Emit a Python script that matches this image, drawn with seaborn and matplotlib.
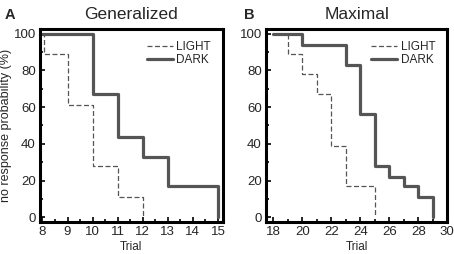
import numpy as np
import pandas as pd
import seaborn as sns
import matplotlib.pyplot as plt
from matplotlib.ticker import MultipleLocator

# survival curves: trial at which the step happens, % still not responding
gen_light_trial = [8, 8.05, 9, 10, 11, 12]
gen_light_pct = [100, 89, 61, 28, 11, 0]
gen_dark_trial = [8, 10, 11, 12, 13, 15]
gen_dark_pct = [100, 67, 44, 33, 17, 0]

max_light_trial = [18, 19, 20, 21, 22, 23, 25]
max_light_pct = [100, 89, 78, 67, 39, 17, 0]
max_dark_trial = [18, 20, 23, 24, 25, 26, 27, 28, 29]
max_dark_pct = [100, 94, 83, 56, 28, 22, 17, 11, 0]

titles = ["Generalized", "Maximal"]
letters = ["A", "B"]

sns.set_theme(style="white")
plt.rcParams['font.family'] = ['Liberation Sans', 'DejaVu Sans']

LINE_COL = "#555555"

fig = plt.figure(figsize=(4.54, 2.54), dpi=100)
ax_a = fig.add_axes([0.088, 0.126, 0.403, 0.76])
ax_b = fig.add_axes([0.586, 0.126, 0.399, 0.76])

panels = [
    (ax_a, gen_light_trial, gen_light_pct, gen_dark_trial, gen_dark_pct, (7.9, 15.2), 1, 0.5),
    (ax_b, max_light_trial, max_light_pct, max_dark_trial, max_dark_pct, (17.5, 30.0), 2, 1),
]

for i, (ax, lt, lp, dt, dp, xlim, major, minor) in enumerate(panels):
    light = pd.DataFrame({"trial": lt, "pct": lp})
    dark = pd.DataFrame({"trial": dt, "pct": dp})
    sns.lineplot(data=light, x="trial", y="pct", ax=ax, color=LINE_COL,
                 linewidth=0.9, linestyle=(0, (4, 2)), drawstyle="steps-post",
                 label="LIGHT")
    sns.lineplot(data=dark, x="trial", y="pct", ax=ax, color=LINE_COL,
                 linewidth=2.3, drawstyle="steps-post", label="DARK")

    ax.set_xlim(*xlim)
    ax.set_ylim(-2.5, 102.5)
    ax.xaxis.set_major_locator(MultipleLocator(major))
    ax.xaxis.set_minor_locator(MultipleLocator(minor))
    ax.yaxis.set_major_locator(MultipleLocator(20))
    ax.yaxis.set_minor_locator(MultipleLocator(10))
    ax.tick_params(which="both", direction="in", bottom=True, left=True,
                   top=False, right=False, width=1.2, color="black")
    ax.tick_params(which="major", length=3.5, labelsize=9.5, pad=3)
    ax.tick_params(which="minor", length=2)
    for sp in ax.spines.values():
        sp.set_linewidth(2.2)
        sp.set_color("black")

    ax.set_xlabel("Trial", fontsize=8.5, labelpad=2)
    if i == 0:
        ax.set_ylabel("no response probability (%)", fontsize=9, labelpad=1)
    else:
        ax.set_ylabel("")
    ax.set_title(titles[i], fontsize=12.5, pad=7)

    leg = ax.legend(loc="upper right", frameon=False, fontsize=8.5,
                    handlelength=2.2, handletextpad=0.3, labelspacing=0.1,
                    borderaxespad=0.6)

fig.text(0.01, 0.925, "A", fontsize=10.5, fontweight="bold")
fig.text(0.538, 0.925, "B", fontsize=10.5, fontweight="bold")

fig.savefig("out.png", dpi=100)
